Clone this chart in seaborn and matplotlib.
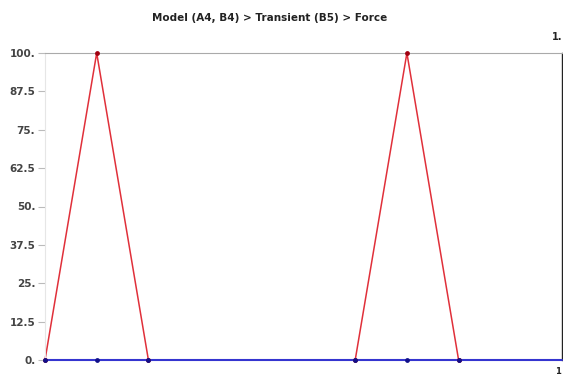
import matplotlib
matplotlib.use("Agg")
import matplotlib.pyplot as plt
import pandas as pd
import seaborn as sns

# dati (tempo in s, forza)
time = [0.0, 0.1, 0.2, 0.6, 0.7, 0.8, 1.0]
force_red = [0.0, 100.0, 0.0, 0.0, 100.0, 0.0, 0.0]
force_blue = [0.0, 0.0, 0.0, 0.0, 0.0, 0.0, 0.0]
y_ticks = [0.0, 12.5, 25.0, 37.5, 50.0, 62.5, 75.0, 87.5, 100.0]
y_labels = ["0.", "12.5", "25.", "37.5", "50.", "62.5", "75.", "87.5", "100."]

df_red = pd.DataFrame({"Time": time, "Force": force_red})
df_blue = pd.DataFrame({"Time": time, "Force": force_blue})

sns.set_style("white")
fig = plt.figure(figsize=(5.63, 3.79), dpi=100)
ax = fig.add_axes([45 / 563, 19 / 379, 517 / 563, 307 / 379])

# rosso sotto, blu sopra (come nel grafico originale)
sns.lineplot(data=df_red, x="Time", y="Force", color="#e0303a",
             linewidth=1.1, ax=ax, sort=False, zorder=2)
sns.lineplot(data=df_blue, x="Time", y="Force", color="#3535d0",
             linewidth=1.5, ax=ax, sort=False, zorder=3)
sns.scatterplot(data=df_red[df_red.Time < 1], x="Time", y="Force",
                color="#a00010", s=12, linewidth=0, ax=ax, zorder=4)
sns.scatterplot(data=df_blue[df_blue.Time < 1], x="Time", y="Force",
                color="#10108a", s=12, linewidth=0, ax=ax, zorder=5)
# la linea blu sta sul bordo inferiore: niente clipping
for art in ax.lines + ax.collections:
    art.set_clip_on(False)

ax.set_xlim(0, 1)
ax.set_ylim(0, 100)
ax.set_xticks([])
ax.set_yticks(y_ticks)
ax.set_yticklabels(y_labels, fontsize=7.5, fontweight="bold", color="#444444")
ax.tick_params(axis="y", length=5, width=0.8, color="#bbbbbb", pad=2, left=True)
ax.set_xlabel("")
ax.set_ylabel("")

ax.spines["top"].set_color("#aaaaaa")
ax.spines["top"].set_linewidth(0.8)
ax.spines["left"].set_color("#e6e6e6")
ax.spines["left"].set_linewidth(0.8)
ax.spines["bottom"].set_visible(False)
ax.spines["right"].set_color("#222222")
ax.spines["right"].set_linewidth(1.0)

fig.text(270 / 563, 1 - 18 / 379, "Model (A4, B4) > Transient (B5) > Force",
         ha="center", va="center", fontsize=7.5, fontweight="bold", color="#222222")
fig.text(557 / 563, 1 - 37 / 379, "1.", ha="center", va="center",
         fontsize=7, fontweight="bold", color="#222222")
fig.text(558 / 563, 1 - 372 / 379, "1", ha="center", va="center",
         fontsize=6, fontweight="bold", color="#222222")

fig.savefig("out.png", dpi=100)
